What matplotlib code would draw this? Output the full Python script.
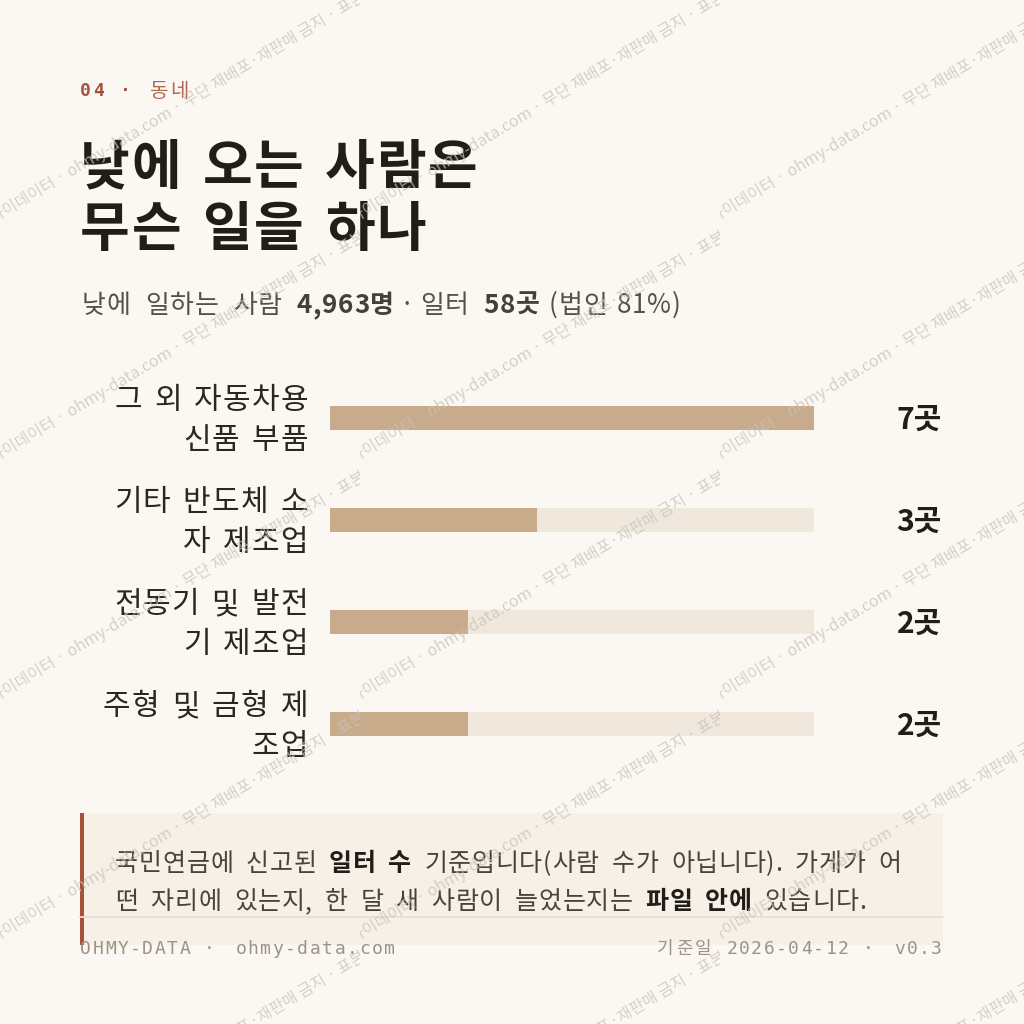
import matplotlib.pyplot as plt
from matplotlib.patches import Rectangle
from matplotlib import font_manager, transforms
from matplotlib.ft2font import FT2Font

plt.rcParams['font.family'] = ['Noto Sans CJK KR', 'DejaVu Sans']

# data
categories = ['그 외 자동차용\n신품 부품', '기타 반도체 소\n자 제조업',
              '전동기 및 발전\n기 제조업', '주형 및 금형 제\n조업']
counts = [7, 3, 2, 2]
unit = '곳'
kicker_num = '04 ·'
kicker_word = '동네'
title_lines = ['낮에 오는 사람은', '무슨 일을 하나']
people = '4,963명'
sites = '58곳'
corp_share = '(법인 81%)'
note_1 = [('국민연금에 신고된 ', False), ('일터 수', True),
          (' 기준입니다(사람 수가 아닙니다). 가게가 어', False)]
note_2 = [('떤 자리에 있는지, 한 달 새 사람이 늘었는지는 ', False),
          ('파일 안에', True), (' 있습니다.', False)]
footer_left = 'OHMY-DATA · ohmy-data.com'
footer_right = '기준일 2026-04-12 · v0.3'
watermark = '마이데이터 · ohmy-data.com · 무단 재배포·재판매 금지 · 표본'

BG = '#FBF8F3'
INK = '#211D19'
GRAY = '#57504A'
RUST = '#A4513B'
BAR = '#C8AB8A'
TRACK = '#F0E8DC'
NOTE_BG = '#F6F0E7'
FOOT = '#9D9286'
MONO = ['DejaVu Sans Mono', 'Noto Sans CJK KR']


def pt(px):
    return px * 0.72


_fonts = {}


def advance(c, size_px, weight):
    if weight not in _fonts:
        path = font_manager.findfont(font_manager.FontProperties(family='Noto Sans CJK KR', weight=weight))
        _fonts[weight] = FT2Font(path)
    f = _fonts[weight]
    f.set_size(pt(size_px), 100)
    return f.load_char(ord(c)).linearHoriAdvance / 65536


def run_width(s, size_px, weight, track, space):
    return sum((space if c == ' ' else advance(c, size_px, weight)) + track for c in s)


def draw_run(axis, x, y, s, size_px, weight, color, track, space, transform=None):
    tr = transform if transform is not None else axis.transData
    for c in s:
        if c != ' ':
            axis.text(x, y, c, fontsize=pt(size_px), fontweight=weight, color=color,
                      ha='left', va='baseline', transform=tr)
            x += advance(c, size_px, weight) + track
        else:
            x += space + track
    return x


fig = plt.figure(figsize=(10.24, 10.24), dpi=100)
fig.patch.set_facecolor(BG)
ax = fig.add_axes([0, 0, 1, 1])
ax.set_xlim(0, 1024)
ax.set_ylim(1024, 0)
ax.axis('off')


def spaced(x, y, s, size_px, pitch, color, ha='left', weight='normal'):
    steps = [pitch if ord(c) < 128 else size_px * 1.05 for c in s]
    if ha == 'right':
        x = x - sum(steps) + (pitch - size_px * 0.6)
    for c, st in zip(s, steps):
        ax.text(x, y, c, fontsize=pt(size_px), color=color, family=MONO,
                fontweight=weight, ha='left', va='baseline')
        x += st


# kicker
spaced(80, 96, kicker_num, 18, 13.5, RUST, weight='bold')
draw_run(ax, 150, 97, kicker_word, 20, 'normal', '#B0674F', 1.5, 6)

# title
draw_run(ax, 80, 184, title_lines[0], 54, 'bold', INK, 2.0, 17)
draw_run(ax, 80, 246, title_lines[1], 54, 'bold', INK, 2.0, 17)

# subtitle
x = draw_run(ax, 82, 313, '낮에 일하는 사람 ', 26, 'normal', GRAY, 0.8, 13)
x = draw_run(ax, x, 313, people, 26, 'bold', '#47403A', 0.8, 13)
x = draw_run(ax, x, 313, ' · ', 26, 'normal', GRAY, 0.8, 4)
x = draw_run(ax, x, 313, '일터 ', 26, 'normal', GRAY, 0.8, 13)
x = draw_run(ax, x, 313, sites, 26, 'bold', '#47403A', 0.8, 13)
x = draw_run(ax, x, 313, ' ' + corp_share, 26, 'normal', GRAY, 0.8, 8)

# bars
axb = fig.add_axes([330 / 1024, 1 - 775 / 1024, 484 / 1024, 408 / 1024])
axb.set_facecolor('none')
ys = list(range(len(categories)))
axb.barh(ys, [max(counts)] * len(counts), height=0.245, color=TRACK)
axb.barh(ys, counts, height=0.245, color=BAR)
axb.set_xlim(0, max(counts))
axb.set_ylim(len(categories) - 0.5, -0.5)
axb.set_xticks([])
axb.set_yticks([])
for s in axb.spines.values():
    s.set_visible(False)

# category labels: x in page pixels, y from the bar axis
lab_tr = transforms.blended_transform_factory(ax.transData, axb.transData)
for i, cat in enumerate(categories):
    lines = cat.split('\n')
    for j, line in enumerate(lines):
        dy = (len(lines) - 1) / 2 * 40 - j * 40 - 11
        tr = transforms.offset_copy(lab_tr, fig=fig, x=0, y=dy, units='dots')
        w = run_width(line, 30, 'normal', 1.2, 10)
        draw_run(ax, 308 - w + 1.2, i, line, 30, 'normal', '#2A2622', 1.2, 10, transform=tr)

val_tr = transforms.offset_copy(axb.get_yaxis_transform(), fig=fig, x=0, y=-2, units='dots')
for i, c in enumerate(counts):
    axb.text((942 - 330) / 484, i, f'{c}{unit}', transform=val_tr,
             ha='right', va='center', fontsize=pt(30), fontweight='bold', color=INK)

# note box
ax.add_patch(Rectangle((80, 813), 863, 132, facecolor=NOTE_BG, edgecolor='none'))
ax.add_patch(Rectangle((80, 813), 4, 132, facecolor='#A9503A', edgecolor='none'))
for yb, parts in [(871, note_1), (909, note_2)]:
    x = 115
    for s, b in parts:
        x = draw_run(ax, x, yb, s, 25, 'bold' if b else 'normal',
                     INK if b else '#4A433C', 0.8, 11)
ax.plot([80, 943], [917, 917], color='#E8DED1', lw=1.3)

# footer
spaced(80, 954, footer_left, 18, 12.4, FOOT)
spaced(942, 954, footer_right, 18, 12.4, FOOT, ha='right')

# watermark overlay
axw = fig.add_axes([0, 0, 1, 1], zorder=10)
axw.set_xlim(0, 1024)
axw.set_ylim(1024, 0)
axw.axis('off')
for row in range(-1, 6):
    for col in range(3):
        x0 = col * 360
        y0 = 224 + row * 240
        clip = Rectangle((x0, y0 - 236), 360, 240, transform=axw.transData,
                         facecolor='none', edgecolor='none')
        axw.add_patch(clip)
        t = axw.text(x0 - 6, y0, watermark, fontsize=11.5, color='#C9C2BA', alpha=0.75,
                     rotation=31, rotation_mode='anchor', ha='left', va='baseline')
        t.set_clip_on(True)
        t.set_clip_path(clip)

fig.savefig('out.png', dpi=100, facecolor=BG)
